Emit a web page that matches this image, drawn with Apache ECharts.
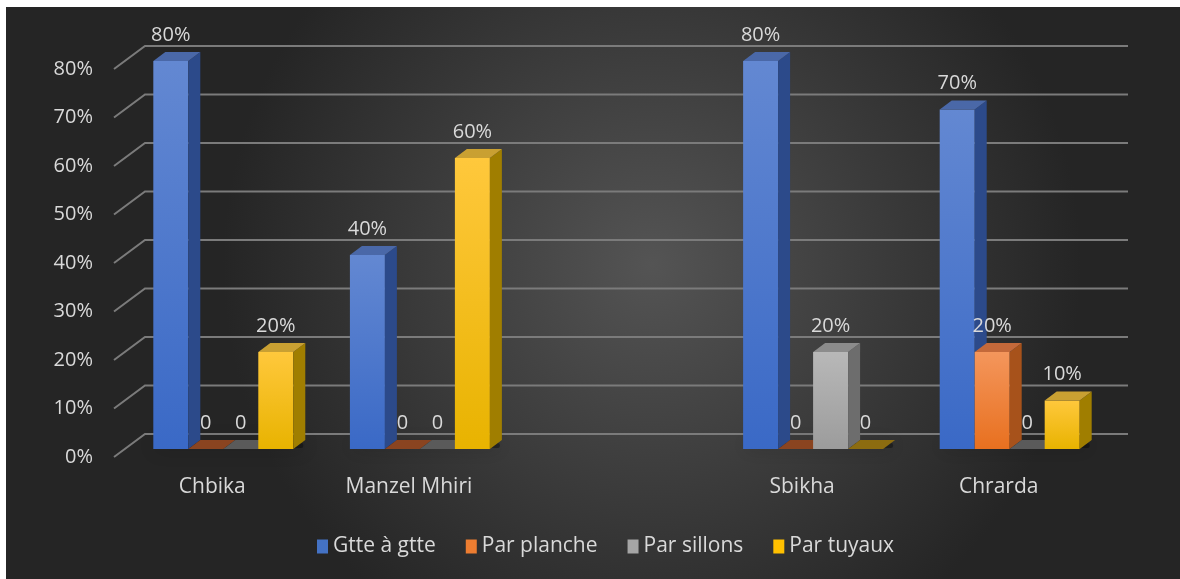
<!DOCTYPE html>
<html><head><meta charset="utf-8">
<script src="https://cdn.jsdelivr.net/npm/echarts@6/dist/echarts.min.js"></script>
<style>html,body{margin:0;padding:0;background:#fff;}#c{position:absolute;left:6px;top:7px;width:1174px;height:572px;}</style>
</head><body><div id="c"></div><script>
const categories = ['Chbika', 'Manzel Mhiri', '', 'Sbikha', 'Chrarda'];
const seriesNames = ['Gtte à gtte', 'Par planche', 'Par sillons', 'Par tuyaux'];
const gtte = [80, 40, null, 80, 70];
const planche = [0, 0, null, 0, 20];
const sillons = [0, 0, null, 20, 0];
const tuyaux = [20, 60, null, 0, 10];
const yTicks = [0, 10, 20, 30, 40, 50, 60, 70, 80];

const seriesValues = [gtte, planche, sillons, tuyaux];
const palettes = [
  {legend:'#4472c4', front:['#6388d2','#3a69c6'], side:'#2c4a8a', top:'#4a68a8', zero:'#2c4a8a'},
  {legend:'#ed7d31', front:['#f4965c','#e8701f'], side:'#a7521b', top:'#c4693a', zero:'#8a4420'},
  {legend:'#a5a5a5', front:['#b8b8b8','#9c9c9c'], side:'#6d6d6d', top:'#8c8c8c', zero:'#5a5a5a'},
  {legend:'#ffc000', front:['#ffc83c','#e8b300'], side:'#a07e00', top:'#c9a032', zero:'#8c6c10'}
];
const FONT = '"Open Sans", Lato, sans-serif';
const LABEL = '#d9d9d9';
const DX = 11, DY = 8, dx = 12, dy = 9, BX = 31, BY = 23;

function barRender(k) {
  const pal = palettes[k];
  return function (params, api) {
    const idx = api.value(0), v = api.value(1);
    if (v == null || isNaN(v)) return;
    const band = api.size([1, 0])[0];
    const w = band * 0.178;
    const base = api.coord([idx, 0]);
    const x0 = base[0] + DX - 2 * w + k * w;
    const yb = base[1] - DY;
    const yt = api.coord([idx, v])[1] - DY;
    const children = [];
    if (k === 0) {
      children.push({type:'rect', shape:{x:x0+2, y:yb-6, width:4*w+dx-4, height:5, r:2},
        style:{fill:'rgba(0,0,0,0.35)', shadowBlur:18, shadowColor:'rgba(0,0,0,0.85)', shadowOffsetY:0}});
    }
    if (v === 0) {
      children.push({type:'polygon', shape:{points:[[x0, yb],[x0+dx, yb-dy],[x0+w+dx, yb-dy],[x0+w, yb]]}, style:{fill:pal.zero}});
    } else {
      children.push({type:'rect', shape:{x:x0, y:yt, width:w, height:yb-yt},
        style:{fill:new echarts.graphic.LinearGradient(0,0,0,1,[{offset:0,color:pal.front[0]},{offset:1,color:pal.front[1]}])}});
      children.push({type:'polygon', shape:{points:[[x0+w, yt],[x0+w+dx, yt-dy],[x0+w+dx, yb-dy],[x0+w, yb]]}, style:{fill:pal.side}});
      children.push({type:'polygon', shape:{points:[[x0, yt],[x0+dx, yt-dy],[x0+w+dx, yt-dy],[x0+w, yt]]}, style:{fill:pal.top}});
    }
    children.push({type:'text', style:{text: v === 0 ? '0' : v + '%', x:x0 + w/2, y:yt - 26, align:'center', verticalAlign:'middle', fill:LABEL, font:'20px ' + FONT}});
    return {type:'group', children};
  };
}

function gridRender(params, api) {
  const cs = params.coordSys;
  const y = api.coord([0, api.value(1)])[1];
  return {type:'polyline', shape:{points:[[cs.x, y],[cs.x+BX, y-BY],[cs.x+cs.width+BX, y-BY]]},
    style:{stroke:'#7b7b7b', lineWidth:2, fill:null}};
}

const series = [{
  type:'custom', name:'grid', silent:true, clip:false, z:1,
  renderItem:gridRender, data:yTicks.map(v => [0, v])
}];
seriesValues.forEach((vals, k) => {
  series.push({
    type:'custom', name:seriesNames[k], clip:false, z:2,
    itemStyle:{color:palettes[k].legend},
    renderItem:barRender(k),
    data:vals.map((v, i) => [i, v])
  });
});

const chart = echarts.init(document.getElementById('c'));
chart.setOption({
  backgroundColor:{type:'radial', x:0.55, y:0.45, r:0.75, colorStops:[{offset:0,color:'#545454'},{offset:1,color:'#252525'}]},
  animation:false,
  textStyle:{fontFamily:FONT},
  grid:{left:108, right:83, top:62, bottom:122},
  xAxis:{type:'category', data:categories, axisLine:{show:false}, axisTick:{show:false}, splitLine:{show:false},
    axisLabel:{color:LABEL, fontSize:21, margin:20, fontFamily:FONT}},
  yAxis:{type:'value', min:0, max:80, interval:10, axisLine:{show:false}, axisTick:{show:false}, splitLine:{show:false},
    axisLabel:{formatter:'{value}%', color:LABEL, fontSize:20, margin:21, fontFamily:FONT}},
  legend:{data:seriesNames, top:524, left:306, icon:'rect', itemWidth:11, itemHeight:14, itemGap:30, itemTextGap:5,
    textStyle:{color:LABEL, fontSize:21, fontFamily:FONT}},
  series
});
</script></body></html>
